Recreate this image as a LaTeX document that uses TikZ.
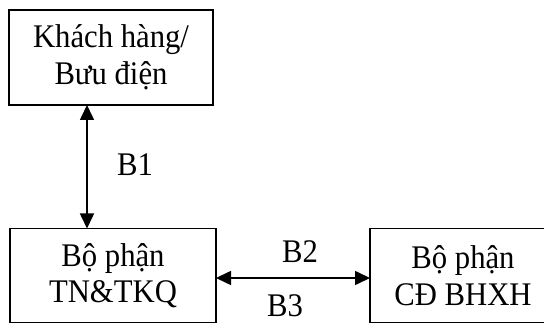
\documentclass[tikz,border=0pt]{standalone}
\usepackage{fontspec}
\setmainfont{Liberation Serif}[FakeStretch=0.93]
\usetikzlibrary{arrows.meta}
\begin{document}
\begin{tikzpicture}[x=1pt,y=-1pt,
  box/.style={draw, line width=1.6pt, outer sep=0pt, inner sep=0pt, align=center,
    font=\fontsize{33}{36.5}\selectfont},
  lbl/.style={anchor=base, inner sep=0pt, font=\fontsize{33}{36}\selectfont},
  biarrow/.style={line width=1.6pt, {Triangle[length=15pt,width=14pt]}-{Triangle[length=15pt,width=14pt]}}]
\useasboundingbox (0,0) rectangle (544,323);
\fill[white] (0,0) rectangle (544,323);
% the three offices
\node[box, minimum width=204pt, minimum height=95pt] (kh) at (111,57.5) {Khách hàng/\\Bưu điện};
\node[box, minimum width=206pt, minimum height=94pt] (tn) at (113,275.5) {Bộ phận\\TN\&TKQ};
\node[box, minimum width=186pt, minimum height=94pt] (cd) at (463,275.5) {Bộ phận\\CĐ BHXH};
% connectors
\coordinate (vx) at (87,0);
\coordinate (hy) at (0,278);
\draw[biarrow] (kh.south -| vx) -- (tn.north -| vx);
\draw[biarrow] (tn.east |- hy) -- (cd.west |- hy);
% step labels
\node[lbl] (b1) at (135,176) {B1};
\node[lbl] (b2) at (300,263) {B2};
\node[lbl] (b3) at (285,317) {B3};
\end{tikzpicture}
\end{document}
